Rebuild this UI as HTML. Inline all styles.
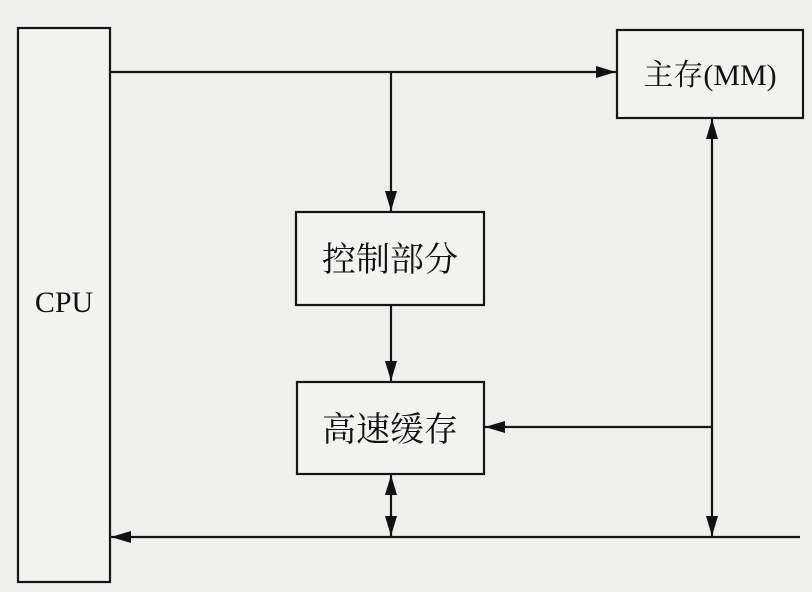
<!DOCTYPE html>
<html><head><meta charset="utf-8"><style>
html,body{margin:0;padding:0;background:#efefed;}
svg{display:block}
text{font-family:"Liberation Serif","Noto Serif CJK SC",serif;fill:#111}
</style></head><body>
<svg width="812" height="592" viewBox="0 0 812 592" xmlns="http://www.w3.org/2000/svg">
<defs>
<marker id="a" markerWidth="20" markerHeight="12" refX="20" refY="6" orient="auto" markerUnits="userSpaceOnUse">
<path d="M0,0 L20,6 L0,12 z" fill="#111"/></marker>
<marker id="s" markerWidth="20" markerHeight="12" refX="0" refY="6" orient="auto" markerUnits="userSpaceOnUse">
<path d="M20,0 L0,6 L20,12 z" fill="#111"/></marker>
</defs>
<rect x="0" y="0" width="812" height="592" fill="#efefed"/>
<g stroke="#151515" stroke-width="2.2" fill="#f2f2f0">
<rect x="18" y="28" width="92" height="554"/>
<rect x="617" y="30" width="186" height="88"/>
<rect x="296" y="212" width="188" height="93"/>
<rect x="297" y="382" width="187" height="92"/>
</g>
<g stroke="#151515" stroke-width="2.2" fill="none">
<line x1="110" y1="72" x2="616" y2="72" marker-end="url(#a)"/>
<line x1="391" y1="72" x2="391" y2="211" marker-end="url(#a)"/>
<line x1="391" y1="305" x2="391" y2="381" marker-end="url(#a)"/>
<line x1="712" y1="119" x2="712" y2="536" marker-start="url(#s)" marker-end="url(#a)"/>
<line x1="712" y1="427" x2="485" y2="427" marker-end="url(#a)"/>
<line x1="800" y1="537" x2="111" y2="537" marker-end="url(#a)"/>
<line x1="391" y1="475" x2="391" y2="536" marker-start="url(#s)" marker-end="url(#a)"/>
</g>
<text x="64" y="312" font-size="30" text-anchor="middle">CPU</text>
<text x="710" y="85" font-size="30" text-anchor="middle">主存(MM)</text>
<text x="390" y="271" font-size="34" text-anchor="middle">控制部分</text>
<text x="390" y="441" font-size="34" text-anchor="middle">高速缓存</text>
</svg>
</body></html>
